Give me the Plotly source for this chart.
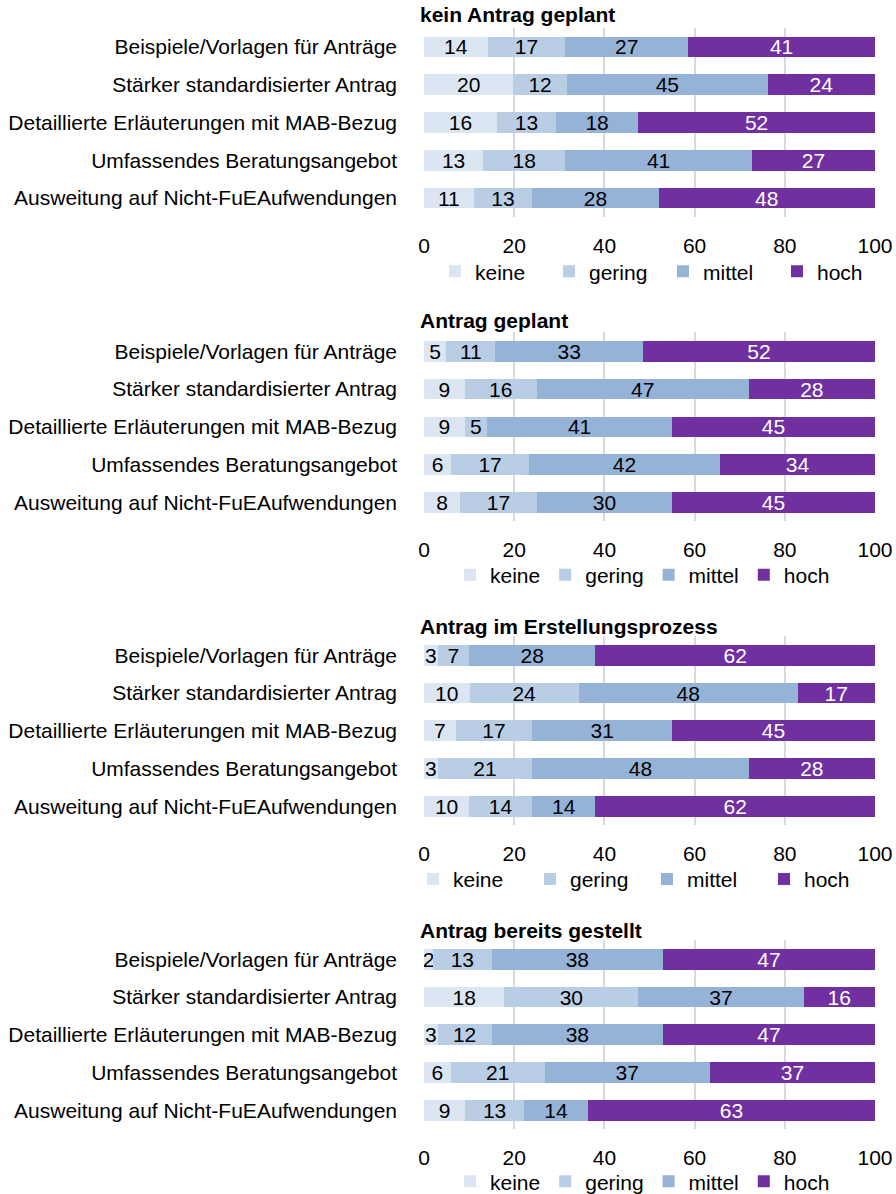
import plotly.graph_objects as go

W, H = 896, 1194
OFF = 0  # page body margin removed via post_script

categories = [
    "Beispiele/Vorlagen für Anträge",
    "Stärker standardisierter Antrag",
    "Detaillierte Erläuterungen mit MAB-Bezug",
    "Umfassendes Beratungsangebot",
    "Ausweitung auf Nicht-FuEAufwendungen",
]
series_names = ["keine", "gering", "mittel", "hoch"]
panel_titles = ["kein Antrag geplant", "Antrag geplant",
                "Antrag im Erstellungsprozess", "Antrag bereits gestellt"]

# values per panel: rows = categories, columns = keine, gering, mittel, hoch
kein_antrag = [[14, 17, 27, 41], [20, 12, 45, 24], [16, 13, 18, 52], [13, 18, 41, 27], [11, 13, 28, 48]]
antrag_geplant = [[5, 11, 33, 52], [9, 16, 47, 28], [9, 5, 41, 45], [6, 17, 42, 34], [8, 17, 30, 45]]
antrag_erstellung = [[3, 7, 28, 62], [10, 24, 48, 17], [7, 17, 31, 45], [3, 21, 48, 28], [10, 14, 14, 62]]
antrag_gestellt = [[2, 13, 38, 47], [18, 30, 37, 16], [3, 12, 38, 47], [6, 21, 37, 37], [9, 13, 14, 63]]
panels = [kein_antrag, antrag_geplant, antrag_erstellung, antrag_gestellt]

tick_vals = [0, 20, 40, 60, 80, 100]
colors = ["#DCE6F2", "#B9CDE5", "#95B3D7", "#7030A0"]
text_colors = ["#000000", "#000000", "#000000", "#FFFFFF"]

FONT = "Liberation Sans, Arial, sans-serif"
FS = 21

# pixel layout (page coordinates of the reference)
x0_px, x1_px = 424, 875
dom_px = [(28.1, 216.9), (332.4, 521.4), (636.4, 825.2), (940.4, 1129.2)]
title_px = [15, 320, 626, 930]
legend_px = [271.7, 575, 879.3, 1181.7]
legend_x_px = [453, 468, 431, 468]
legend_entry = [69, 0, 72, 0]

def px_x(p):
    return (p - OFF) / W

def py(p):
    return 1 - (p - OFF) / H

fig = go.Figure()
for k, data in enumerate(panels):
    ax = "" if k == 0 else str(k + 1)
    leg = "legend" if k == 0 else f"legend{k + 1}"
    sums = [sum(r) for r in data]
    for s, name in enumerate(series_names):
        vals = [data[i][s] / sums[i] * 100 for i in range(len(categories))]
        labels = [str(data[i][s]) for i in range(len(categories))]
        fig.add_trace(go.Bar(
            x=vals, y=categories, orientation="h", name=name,
            marker=dict(color=colors[s], line=dict(width=0)),
            text=labels, texttemplate="%{text}", textposition="inside",
            insidetextanchor="middle", textangle=0,
            textfont=dict(color=text_colors[s], size=FS, family=FONT),
            xaxis="x" + ax, yaxis="y" + ax, legend=leg,
            hoverinfo="skip",
        ))

layout = dict(
    width=W, height=H, margin=dict(l=0, r=0, t=0, b=0, autoexpand=False),
    paper_bgcolor="white", plot_bgcolor="white",
    barmode="stack", bargap=0.45,
    font=dict(family=FONT, size=FS, color="#000000"),
    uniformtext=dict(minsize=FS, mode="show"),
    annotations=[],
)
for k in range(4):
    ax = "" if k == 0 else str(k + 1)
    top, bot = dom_px[k]
    layout["xaxis" + ax] = dict(
        domain=[px_x(x0_px), px_x(x1_px)], range=[0, 100], anchor="y" + ax,
        tickvals=tick_vals, ticktext=[str(v) for v in tick_vals],
        showgrid=True, gridcolor="#D9D9D9", gridwidth=1.5, zeroline=False,
        showline=False, ticks="", ticklabelstandoff=14,
        tickfont=dict(size=FS, family=FONT, color="#000000"), fixedrange=True,
    )
    layout["yaxis" + ax] = dict(
        domain=[py(bot), py(top)], anchor="x" + ax,
        categoryorder="array", categoryarray=categories, autorange="reversed",
        showgrid=False, zeroline=False, showline=False, ticks="",
        ticklabelstandoff=26,
        tickfont=dict(size=FS, family=FONT, color="#000000"), fixedrange=True,
    )
    leg = "legend" if k == 0 else f"legend{k + 1}"
    layout[leg] = dict(
        orientation="h", x=px_x(legend_x_px[k] - 4 - 14), xanchor="left",
        y=py(legend_px[k]), yanchor="middle",
        font=dict(size=FS, family=FONT, color="#000000"),
        bgcolor="rgba(0,0,0,0)", borderwidth=0,
        entrywidth=legend_entry[k], entrywidthmode="pixels",
        traceorder="normal", itemclick=False, itemdoubleclick=False,
    )
    layout["annotations"].append(dict(
        text="<b>" + panel_titles[k] + "</b>", x=px_x(418), y=py(title_px[k]),
        xref="paper", yref="paper", xanchor="left", yanchor="middle",
        showarrow=False, font=dict(size=FS, family=FONT, color="#000000"),
    ))

fig.update_layout(**layout)
fig.write_html(
    "out.html",
    config={"displayModeBar": False},
    post_script="document.body.style.margin='0';document.body.style.overflow='hidden';",
)
